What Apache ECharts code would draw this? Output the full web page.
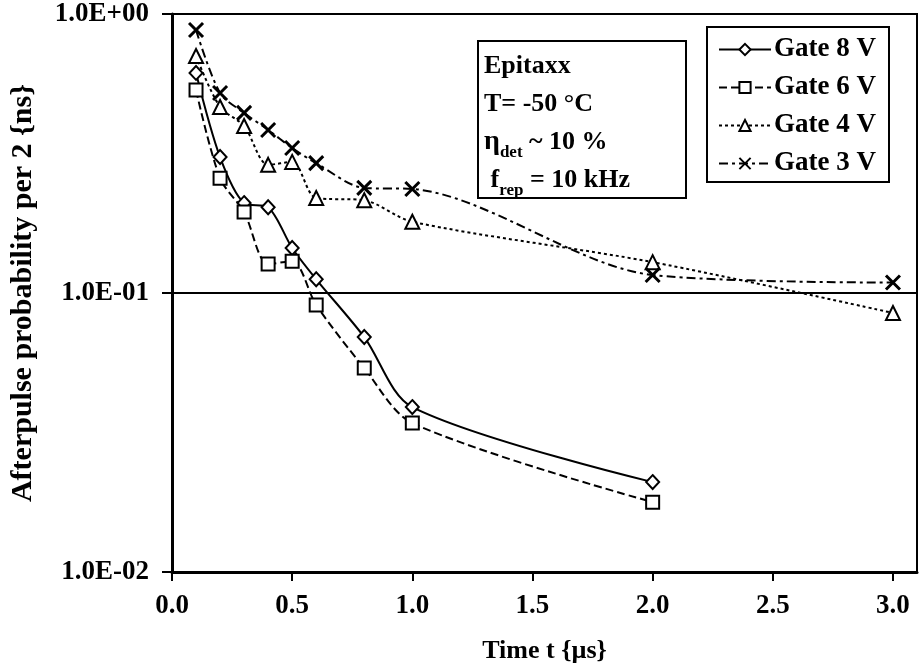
<!DOCTYPE html>
<html>
<head>
<meta charset="utf-8">
<script src="https://cdn.jsdelivr.net/npm/echarts@6/dist/echarts.min.js"></script>
<style>
  html, body { margin: 0; padding: 0; background: #fff; }
  #chart { width: 922px; height: 669px; }
</style>
</head>
<body>
<div id="chart"></div>
<script>
// values
const times = [0.1, 0.2, 0.3, 0.4, 0.5, 0.6, 0.8, 1.0, 2.0, 3.0];
const gate8 = [0.615, 0.307, 0.210, 0.203, 0.145, 0.112, 0.0695, 0.039, 0.021];
const gate6 = [0.534, 0.258, 0.195, 0.127, 0.130, 0.0906, 0.0538, 0.0342, 0.0178];
const gate4 = [0.707, 0.464, 0.397, 0.288, 0.295, 0.219, 0.215, 0.180, 0.129, 0.0848];
const gate3 = [0.876, 0.521, 0.442, 0.384, 0.331, 0.292, 0.238, 0.236, 0.116, 0.109];
const xTicks = [0, 0.5, 1.0, 1.5, 2.0, 2.5, 3.0];
const seriesNames = ['Gate 8 V', 'Gate 6 V', 'Gate 4 V', 'Gate 3 V'];

const FONT = '"Liberation Serif", "Times New Roman", serif';

function pairs(vals) {
  return vals.map((v, i) => [times[i], v]);
}

function sci(v) {
  const e = Math.round(Math.log10(v));
  return '1.0E' + (e < 0 ? '-' : '+') + String(Math.abs(e)).padStart(2, '0');
}

function line(name, vals, symbol, size, dash, bw) {
  return {
    name: name,
    type: 'line',
    data: pairs(vals),
    smooth: 0.3,
    symbol: symbol,
    symbolSize: size,
    lineStyle: { color: '#000', width: 2, type: dash },
    itemStyle: { color: '#fff', borderColor: '#000', borderWidth: bw },
    emphasis: { disabled: true }
  };
}

const chart = echarts.init(document.getElementById('chart'));
chart.setOption({
  animation: false,
  backgroundColor: '#fff',
  grid: {
    left: 170, top: 14, right: 5, bottom: 97,
    show: true, borderColor: '#000', borderWidth: 2
  },
  xAxis: {
    type: 'value',
    min: 0,
    max: 3.1,
    name: 'Time t {µs}',
    nameLocation: 'middle',
    nameGap: 66,
    nameTextStyle: { fontFamily: FONT, fontWeight: 'bold', fontSize: 26, color: '#000' },
    axisLine: { lineStyle: { color: '#000', width: 3 } },
    axisTick: { customValues: xTicks, length: 9, lineStyle: { color: '#000', width: 2 } },
    axisLabel: {
      customValues: xTicks,
      formatter: v => v.toFixed(1),
      margin: 21,
      fontFamily: FONT, fontWeight: 'bold', fontSize: 27, color: '#000'
    },
    splitLine: { show: false }
  },
  yAxis: {
    type: 'log',
    logBase: 10,
    min: 0.01,
    max: 1,
    name: 'Afterpulse probability per 2 {ns}',
    nameLocation: 'middle',
    nameGap: 134,
    nameTextStyle: { fontFamily: FONT, fontWeight: 'bold', fontSize: 30, color: '#000' },
    axisLine: { lineStyle: { color: '#000', width: 3 } },
    axisTick: { length: 10, lineStyle: { color: '#000', width: 2 } },
    axisLabel: {
      formatter: sci,
      margin: 23,
      fontFamily: FONT, fontWeight: 'bold', fontSize: 27, color: '#000'
    },
    splitLine: { show: true, lineStyle: { color: '#000', width: 2 } },
    minorTick: { show: false }
  },
  legend: {
    orient: 'vertical',
    left: 713,
    top: 31,
    z: 20,
    itemWidth: 52,
    itemHeight: 14,
    itemGap: 11,
    selectedMode: false,
    textStyle: { fontFamily: FONT, fontWeight: 'bold', fontSize: 27, color: '#000', padding: [0, 0, 0, -2] },
    data: seriesNames
  },
  graphic: [
    {
      type: 'rect',
      shape: { x: 707, y: 27, width: 182, height: 155 },
      style: { fill: '#fff', stroke: '#000', lineWidth: 2 },
      z: 5
    },
    {
      type: 'rect',
      shape: { x: 478, y: 41, width: 208, height: 157 },
      style: { fill: '#fff', stroke: '#000', lineWidth: 2 },
      z: 5
    },
    {
      type: 'text',
      left: 484,
      top: 47,
      z: 6,
      style: {
        text: 'Epitaxx\nT= -50 °C\n{eta|η}{sub|det} ~ 10 %\n f{sub|rep} = 10 kHz',
        fontFamily: FONT,
        fontWeight: 'bold',
        fontSize: 26,
        lineHeight: 38,
        fill: '#000',
        rich: {
          eta: { fontFamily: FONT, fontWeight: 'bold', fontSize: 28, lineHeight: 38 },
          sub: { fontFamily: FONT, fontWeight: 'bold', fontSize: 17, lineHeight: 38, verticalAlign: 'bottom', padding: [10, 0, 0, 0] }
        }
      }
    }
  ],
  series: [
    line('Gate 8 V', gate8, 'diamond', [13, 14], 'solid', 2),
    line('Gate 6 V', gate6, 'rect', 13, [8, 4], 2),
    line('Gate 4 V', gate4, 'triangle', 14, [3, 3], 2),
    line('Gate 3 V', gate3, 'path://M0,0L10,10M10,0L0,10', 14, [9, 4, 3, 4], 3)
  ]
});
</script>
</body>
</html>
